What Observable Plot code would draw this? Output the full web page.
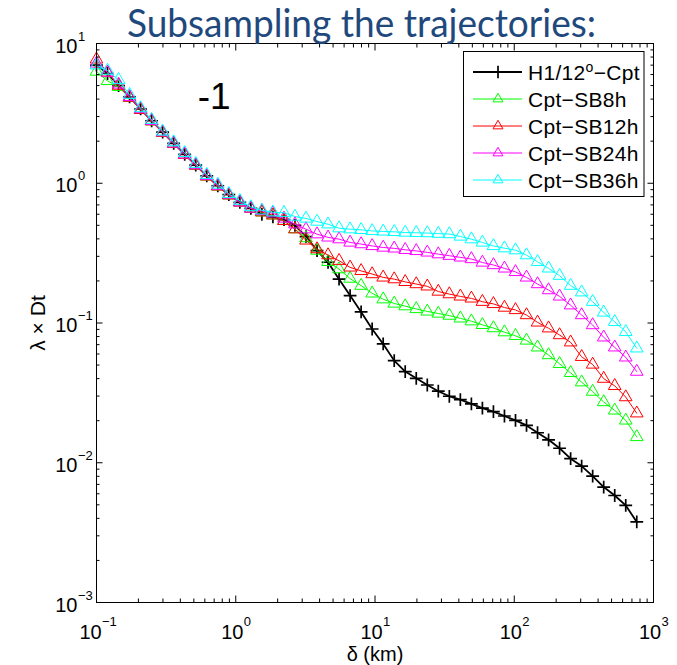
<!DOCTYPE html>
<html><head><meta charset="utf-8">
<script src="https://cdn.jsdelivr.net/npm/d3@7"></script>
<script src="https://cdn.jsdelivr.net/npm/@observablehq/plot@0.6"></script>
<style>
body{margin:0;background:#fff;}
#chart{position:relative;width:677px;height:665px;}
</style>
</head><body><div id="chart"></div>
<script>
// separation distance delta (km)
const delta = [0.1,0.12,0.144,0.1728,0.2074,0.2488,0.2986,0.3583,0.43,0.516,
  0.6192,0.743,0.8916,1.07,1.284,1.541,1.849,2.219,2.662,3.195,
  3.834,4.6,5.52,6.624,7.949,9.539,11.45,13.74,16.48,19.78,
  23.74,28.48,34.18,41.01,49.22,59.06,70.87,85.05,102.1,122.5,
  147,176.4,211.6,254,304.8,365.7,438.9,526.6,631.9,758.3];

const lambdaH1 = [7.0,6.1,5.0,4.15,3.4,2.8,2.32,1.93,1.61,1.35,
  1.13,0.96,0.83,0.73,0.66,0.6,0.575,0.55,0.5,0.415,
  0.33,0.272,0.206,0.157,0.12,0.0906,0.0708,0.0538,0.0449,0.0402,
  0.036,0.0325,0.0299,0.0283,0.0264,0.0246,0.0232,0.0216,0.0201,0.0185,
  0.0164,0.0146,0.0127,0.0107,0.00947,0.00803,0.0067,0.00583,0.00495,0.00377];

const lambdaSB8h = [6.3,5.4,4.9,4.1,3.35,2.78,2.3,1.92,1.6,1.34,
  1.12,0.95,0.82,0.73,0.66,0.62,0.59,0.54,0.47,0.405,
  0.33,0.274,0.243,0.208,0.185,0.163,0.148,0.138,0.132,0.126,
  0.121,0.117,0.113,0.108,0.103,0.097,0.092,0.086,0.081,0.075,
  0.067,0.059,0.051,0.044,0.0377,0.0323,0.0272,0.0237,0.0201,0.0153];

const lambdaSB12h = [7.7,6.2,5.0,4.1,3.35,2.78,2.3,1.92,1.6,1.34,
  1.12,0.95,0.82,0.73,0.66,0.62,0.59,0.538,0.469,0.39,
  0.338,0.306,0.279,0.25,0.236,0.224,0.212,0.206,0.197,0.19,
  0.183,0.168,0.161,0.155,0.15,0.142,0.137,0.129,0.124,0.114,
  0.101,0.0917,0.082,0.0728,0.0573,0.0505,0.04,0.0355,0.0295,0.0226];

const lambdaSB24h = [7.2,6.2,5.1,4.15,3.4,2.8,2.32,1.93,1.61,1.35,
  1.13,0.96,0.83,0.73,0.66,0.634,0.61,0.56,0.509,0.469,
  0.432,0.41,0.398,0.377,0.367,0.356,0.347,0.342,0.334,0.328,
  0.32,0.311,0.303,0.295,0.287,0.271,0.26,0.246,0.232,0.212,
  0.19,0.172,0.155,0.134,0.114,0.0967,0.079,0.067,0.0568,0.0449];

const lambdaSB36h = [7.0,6.4,5.5,4.3,3.45,2.85,2.35,1.97,1.65,1.38,
  1.15,0.98,0.84,0.75,0.676,0.64,0.62,0.615,0.578,0.56,
  0.532,0.509,0.477,0.469,0.464,0.456,0.452,0.449,0.444,0.442,
  0.44,0.436,0.433,0.416,0.398,0.377,0.356,0.343,0.332,0.306,
  0.274,0.246,0.218,0.185,0.166,0.142,0.119,0.102,0.0864,0.0659];

const seriesNames = ["H1/12°−Cpt","Cpt−SB8h","Cpt−SB12h","Cpt−SB24h","Cpt−SB36h"];
const seriesValues = [lambdaH1, lambdaSB8h, lambdaSB12h, lambdaSB24h, lambdaSB36h];
const seriesColors = ["#000000","#00ff00","#ff0000","#ff00ff","#00ffff"];

const xTickValues = [0.1, 1, 10, 100, 1000];
const xTickExponents = ["−1","0","1","2","3"];
const yTickValues = [0.001, 0.01, 0.1, 1, 10];
const yTickExponents = ["−3","−2","−1","0","1"];
const xMinorTicks = [0.1,1,10,100].flatMap(d => [2,3,4,5,6,7,8,9].map(m => m*d));
const yMinorTicks = [0.001,0.01,0.1,1].flatMap(d => [2,3,4,5,6,7,8,9].map(m => m*d));

const annotations = [{x: 0.7, y: 4.1, text: "-1"}];

const titleText = "Subsampling the trajectories:";
const xLabel = "δ (km)";
const yLabel = "λ × Dt";

const tables = seriesValues.map((vals, s) => vals.map((v, i) => ({series: seriesNames[s], delta: delta[i], lambda: v})));

const tickMarks = [];
for (const anchor of ["bottom","top"]) {
  tickMarks.push(Plot.axisX(xMinorTicks, {anchor, tickSize: -3.5, tickFormat: () => "", label: null, stroke: "black"}));
  tickMarks.push(Plot.axisX(xTickValues, {anchor, tickSize: -6.5, tickFormat: () => "", label: null, stroke: "black"}));
}
for (const anchor of ["left","right"]) {
  tickMarks.push(Plot.axisY(yMinorTicks, {anchor, tickSize: -3.5, tickFormat: () => "", label: null, stroke: "black"}));
  tickMarks.push(Plot.axisY(yTickValues, {anchor, tickSize: -6.5, tickFormat: () => "", label: null, stroke: "black"}));
}

const labelMarks = [];
const baseW = 22; // width of "10" at 20px
xTickValues.forEach((t, i) => {
  const ew = xTickExponents[i].length > 1 ? 12 : 7.2;
  const total = baseW + ew;
  labelMarks.push(Plot.text([t], {x: d => d, frameAnchor: "bottom", text: () => "10", textAnchor: "start", lineAnchor: "bottom", dx: -total/2, dy: 36, fontSize: 20, fill: "black"}));
  labelMarks.push(Plot.text([t], {x: d => d, frameAnchor: "bottom", text: () => xTickExponents[i], textAnchor: "start", lineAnchor: "bottom", dx: -total/2 + baseW + 0.5, dy: 23, fontSize: 13, fill: "black"}));
});
yTickValues.forEach((t, i) => {
  labelMarks.push(Plot.text([t], {y: d => d, frameAnchor: "left", text: () => "10", textAnchor: "end", lineAnchor: "bottom", dx: -19, dy: 9, fontSize: 20, fill: "black"}));
  labelMarks.push(Plot.text([t], {y: d => d, frameAnchor: "left", text: () => yTickExponents[i], textAnchor: "start", lineAnchor: "bottom", dx: -18.5, dy: -3, fontSize: 13, fill: "black"}));
});

const seriesMarks = [];
tables.forEach((tab, s) => {
  const isRef = s === 0;
  seriesMarks.push(Plot.line(tab, {x: "delta", y: "lambda", stroke: seriesColors[s], strokeWidth: isRef ? 1.8 : 1}));
  seriesMarks.push(Plot.dot(tab, {x: "delta", y: "lambda", stroke: seriesColors[s], fill: "none",
    symbol: isRef ? "plus" : "triangle", r: isRef ? 4.2 : 4.7, strokeWidth: isRef ? 1.7 : 1}));
});

const plot = Plot.plot({
  width: 677, height: 665,
  marginLeft: 96, marginRight: 24, marginTop: 43, marginBottom: 63,
  x: {type: "log", domain: [0.1, 1000], axis: null},
  y: {type: "log", domain: [0.001, 10], axis: null},
  style: {fontFamily: "'Liberation Sans', Arial, Helvetica, sans-serif", background: "white", color: "black", overflow: "visible"},
  marks: [
    ...seriesMarks,
    ...tickMarks,
    Plot.frame({stroke: "black", strokeWidth: 1}),
    ...labelMarks,
    Plot.text([xLabel], {frameAnchor: "bottom", text: d => d, textAnchor: "middle", lineAnchor: "bottom", dy: 58, fontSize: 20, fill: "black"}),
    Plot.text([yLabel], {frameAnchor: "left", text: d => d, textAnchor: "middle", lineAnchor: "middle", rotate: -90, dx: -58, fontSize: 21, fill: "black"}),
    Plot.text(annotations, {x: "x", y: "y", text: "text", textAnchor: "middle", lineAnchor: "middle", fontSize: 37, fill: "black"})
  ]
});

document.getElementById("chart").appendChild(plot);

// Title and legend drawn on top of the SVG
const svg = d3.select(plot);
svg.append("text")
  .attr("x", 127).attr("y", 37)
  .attr("text-anchor", "start")
  .attr("textLength", 469).attr("lengthAdjust", "spacingAndGlyphs")
  .style("font-family", "Lato, 'Open Sans', sans-serif")
  .style("font-size", "38px")
  .style("fill", "#1f497d")
  .text(titleText);

const lg = svg.append("g").attr("text-anchor", "start").style("font-family", "'Liberation Sans', Arial, sans-serif");
lg.append("rect").attr("x", 463.5).attr("y", 51.5).attr("width", 180.5).attr("height", 145)
  .attr("fill", "white").attr("stroke", "black").attr("stroke-width", 1);
seriesNames.forEach((name, s) => {
  const cy = 72 + s * 27;
  lg.append("line").attr("x1", 473).attr("x2", 522).attr("y1", cy).attr("y2", cy)
    .attr("stroke", seriesColors[s]).attr("stroke-width", s === 0 ? 1.8 : 1);
  const sym = s === 0 ? d3.symbol(d3.symbolPlus, 55) : d3.symbol(d3.symbolTriangle2, 70);
  lg.append("path").attr("d", sym()).attr("transform", `translate(498,${cy})`)
    .attr("fill", "none").attr("stroke", seriesColors[s]).attr("stroke-width", s === 0 ? 1.7 : 1);
  const t = lg.append("text").attr("x", 528).attr("y", cy + 7.5).attr("text-anchor", "start")
    .style("font-size", "21px").style("letter-spacing", "0.3px").attr("fill", "black");
  if (s === 0) {
    t.append("tspan").text("H1/12");
    t.append("tspan").attr("dy", -8).style("font-size", "14px").text("o");
    t.append("tspan").attr("dy", 8).text("−Cpt");
  } else {
    t.text(name);
  }
});
</script>
</body></html>
